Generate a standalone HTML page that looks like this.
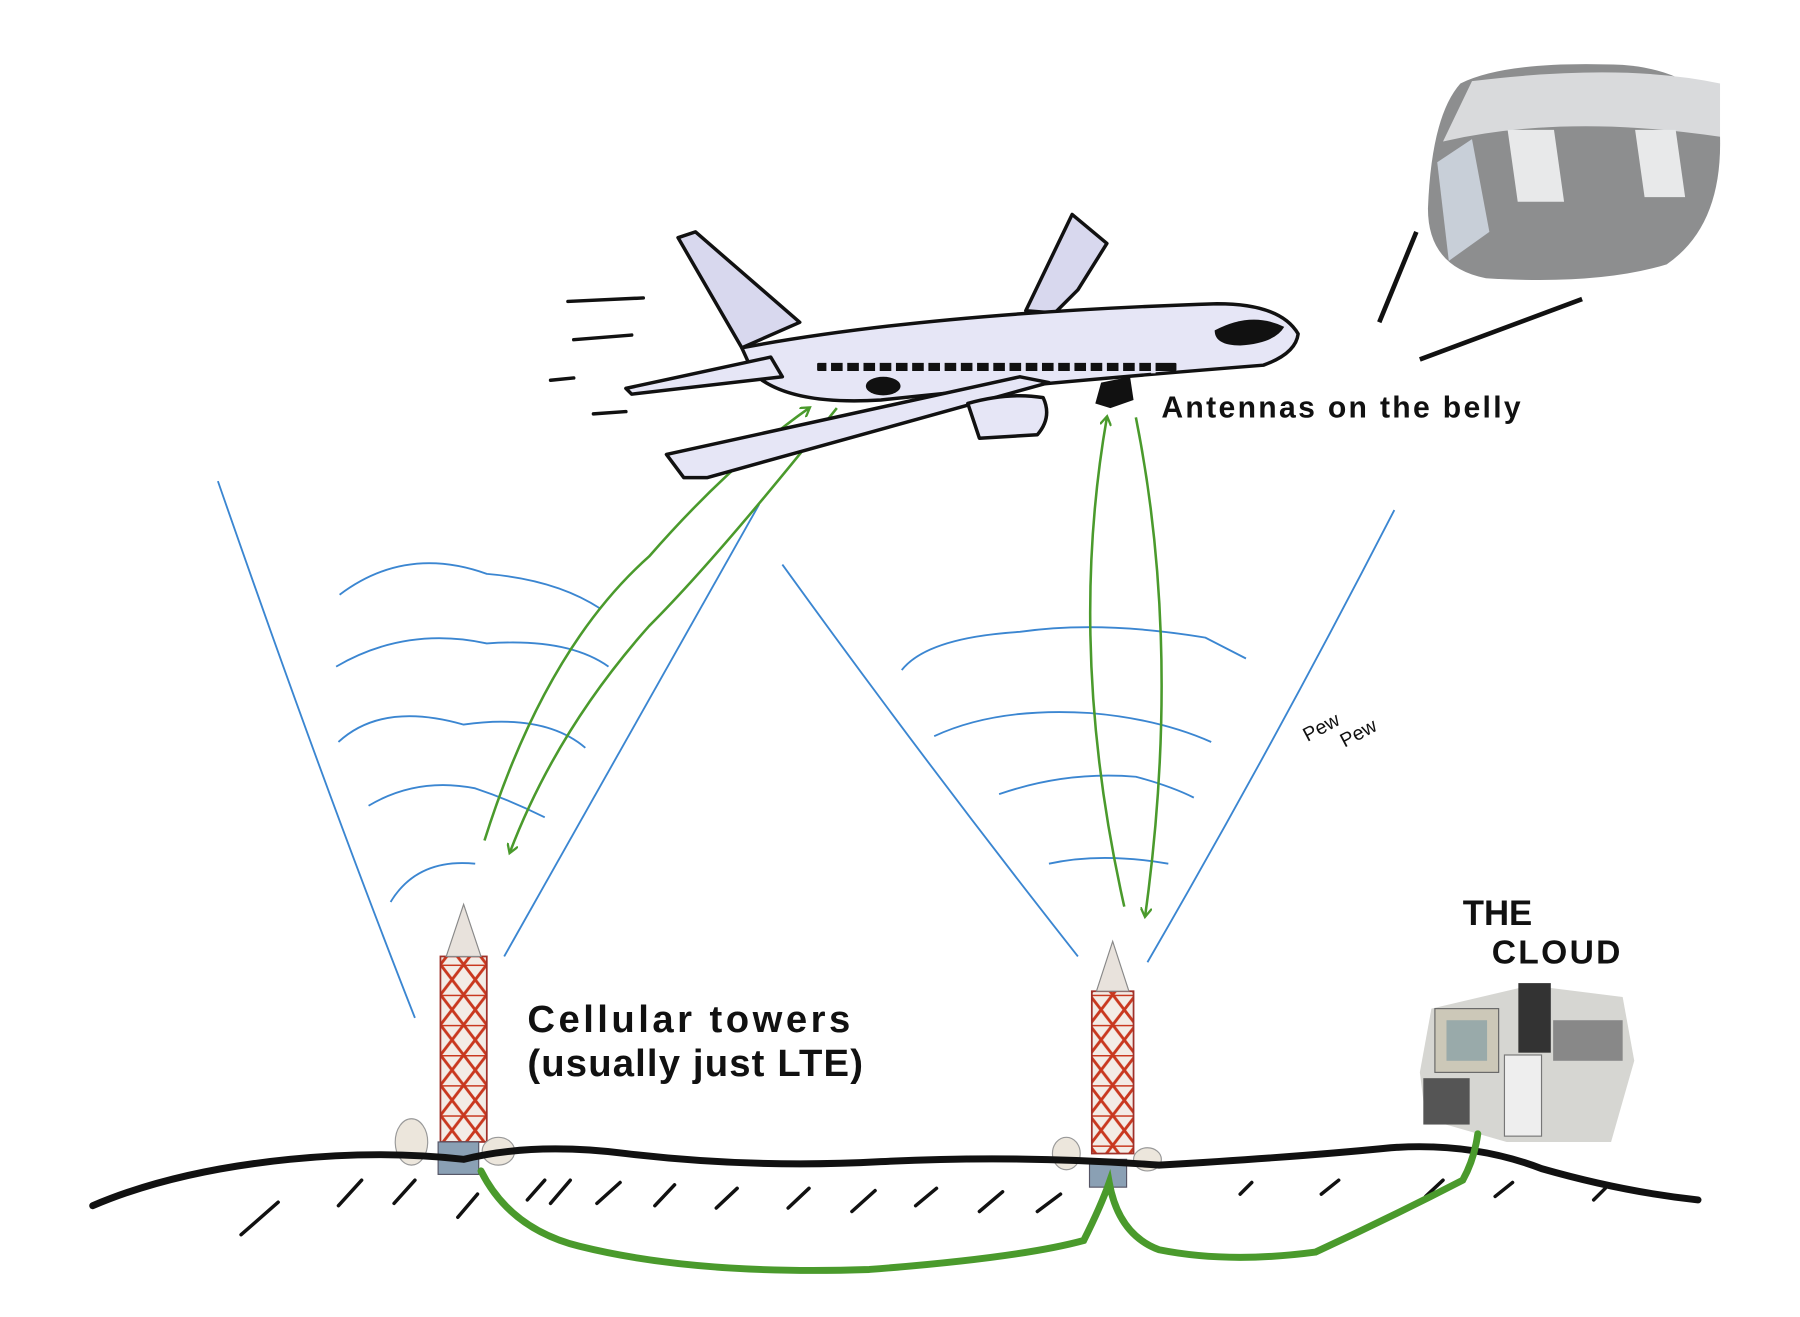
<!DOCTYPE html>
<html><head><meta charset="utf-8"><style>
html,body{margin:0;padding:0;background:#fff;width:1800px;height:1317px;overflow:hidden}
svg{display:block}
text{font-family:"Liberation Sans",sans-serif;fill:#111}
</style></head><body>
<svg width="1800" height="1317" viewBox="0 0 1553 1136" preserveAspectRatio="none" xmlns="http://www.w3.org/2000/svg">
<defs>
<marker id="ah" markerWidth="10" markerHeight="10" refX="7" refY="5" orient="auto" markerUnits="userSpaceOnUse" viewBox="0 0 10 10">
<path d="M0,0 L8,5 L0,10" fill="none" stroke="#4a9a2c" stroke-width="2"/></marker>
<pattern id="lat" width="20" height="26" patternUnits="userSpaceOnUse">
<rect width="20" height="26" fill="#f3ece6"/>
<path d="M0,0 L20,26 M20,0 L0,26 M0,0 H20" stroke="#c9381f" stroke-width="2.5" fill="none"/></pattern>
</defs>

<!-- photo blob -->
<path d="M1260,72 Q1300,52 1400,56 Q1478,62 1484,118 Q1486,195 1438,228 Q1380,246 1282,240 Q1232,230 1232,180 Q1235,100 1260,72Z" fill="#8d8e8f"/>
<path d="M1245,122 Q1350,98 1484,118 L1484,72 Q1400,54 1270,70Z" fill="#d9dadc"/>
<rect x="1285" y="112" width="40" height="62" fill="#e8e9ea" transform="skewX(8)"/>
<rect x="1395" y="112" width="35" height="58" fill="#e8e9ea" transform="skewX(8)"/>
<path d="M1240,140 L1270,120 L1285,200 L1250,225Z" fill="#c8cfd8"/>
<line x1="1190" y1="278" x2="1222" y2="200" stroke="#111" stroke-width="4"/>
<line x1="1225" y1="310" x2="1365" y2="258" stroke="#111" stroke-width="4"/>

<g stroke="#111" stroke-width="3" stroke-linecap="round">
<line x1="490" y1="260" x2="555" y2="257"/><line x1="495" y1="293" x2="545" y2="289"/>
<line x1="475" y1="328" x2="495" y2="326"/><line x1="512" y1="357" x2="540" y2="355"/></g>

<g stroke="#3b86d1" stroke-width="1.6" fill="none">
<path d="M188,415 Q280,680 358,878"/><path d="M655,435 Q540,640 435,825"/>
<path d="M675,487 Q800,660 930,825"/><path d="M1203,440 Q1100,640 990,830"/>
<path d="M293,513 Q350,470 420,495 Q480,500 518,525"/>
<path d="M290,575 Q350,540 420,555 Q490,550 525,575"/>
<path d="M292,640 Q330,605 400,625 Q470,615 505,645"/>
<path d="M318,695 Q360,670 410,680 Q440,690 470,705"/>
<path d="M337,778 Q360,740 410,745"/>
<path d="M778,578 Q800,550 880,545 Q950,535 1040,550 L1075,568"/>
<path d="M806,635 Q860,610 940,615 Q1000,620 1045,640"/>
<path d="M862,685 Q920,665 980,670 Q1010,678 1030,688"/>
<path d="M905,745 Q950,735 1008,745"/>
</g>

<g stroke="#4a9a2c" stroke-width="2.2" fill="none" marker-end="url(#ah)">
<path d="M418,725 Q470,560 560,480 Q630,400 698,352"/>
<path d="M722,352 Q620,480 560,540 Q480,630 440,735"/>
<path d="M970,782 Q920,560 955,360"/>
<path d="M980,360 Q1020,560 988,790"/>
</g>

<g stroke="#111" stroke-width="3" stroke-linejoin="round">
<path d="M585,205 L600,200 L690,278 L640,300Z" fill="#d8d8ee"/>
<path d="M885,268 L925,185 L955,210 L930,250 L910,270Z" fill="#d8d8ee"/>
<path d="M640,300 Q800,270 1050,262 Q1105,262 1120,288 Q1118,305 1090,315 Q900,330 760,345 Q680,350 650,322Z" fill="#e6e6f6"/>
<path d="M540,335 L665,308 L675,325 L545,340Z" fill="#e6e6f6"/>
<path d="M575,392 L880,325 L905,330 L610,412 L590,412Z" fill="#e6e6f6"/>
<path d="M835,348 Q870,338 900,343 Q908,360 895,375 L845,378Z" fill="#e6e6f6"/>
</g>
<path d="M1048,285 Q1080,268 1108,282 Q1100,296 1070,298 Q1048,298 1048,285Z" fill="#111"/>
<path d="M950,330 L975,325 L978,345 L958,352 L945,348Z" fill="#111"/>
<ellipse cx="762" cy="333" rx="15" ry="8" fill="#111"/>
<rect x="705" y="313" width="310" height="7" rx="1" fill="#111"/>
<g fill="#e6e6f6"><rect x="713" y="312" width="4" height="10"/><rect x="727" y="312" width="4" height="10"/><rect x="741" y="312" width="4" height="10"/><rect x="755" y="312" width="4" height="10"/><rect x="769" y="312" width="4" height="10"/><rect x="783" y="312" width="4" height="10"/><rect x="797" y="312" width="4" height="10"/><rect x="811" y="312" width="4" height="10"/><rect x="825" y="312" width="4" height="10"/><rect x="839" y="312" width="4" height="10"/><rect x="853" y="312" width="4" height="10"/><rect x="867" y="312" width="4" height="10"/><rect x="881" y="312" width="4" height="10"/><rect x="895" y="312" width="4" height="10"/><rect x="909" y="312" width="4" height="10"/><rect x="923" y="312" width="4" height="10"/><rect x="937" y="312" width="4" height="10"/><rect x="951" y="312" width="4" height="10"/><rect x="965" y="312" width="4" height="10"/><rect x="979" y="312" width="4" height="10"/><rect x="993" y="312" width="4" height="10"/></g>

<rect x="380" y="825" width="40" height="160" fill="url(#lat)" stroke="#a0312a" stroke-width="1.5"/>
<path d="M385,825 L400,780 L415,825Z" fill="#e8e2dc" stroke="#888"/>
<rect x="942" y="855" width="36" height="140" fill="url(#lat)" stroke="#a0312a" stroke-width="1.5"/>
<path d="M946,855 L960,812 L974,855Z" fill="#e8e2dc" stroke="#888"/>
<g fill="#ece6dc" stroke="#999"><ellipse cx="355" cy="985" rx="14" ry="20"/><ellipse cx="430" cy="993" rx="14" ry="12"/><ellipse cx="920" cy="995" rx="12" ry="14"/><ellipse cx="990" cy="1000" rx="12" ry="10"/></g>
<rect x="378" y="985" width="35" height="28" fill="#8aa0b4" stroke="#556"/>
<rect x="940" y="1000" width="32" height="24" fill="#8aa0b4" stroke="#556"/>

<path d="M1235,870 L1320,850 L1400,860 L1410,915 L1390,985 L1300,985 L1230,965 L1225,925Z" fill="#d6d6d2"/>
<rect x="1238" y="870" width="55" height="55" fill="#ccc8b8" stroke="#666"/>
<rect x="1248" y="880" width="35" height="35" fill="#9aa"/>
<rect x="1310" y="848" width="28" height="60" fill="#333"/>
<rect x="1298" y="910" width="32" height="70" fill="#eee" stroke="#777"/>
<rect x="1340" y="880" width="60" height="35" fill="#888"/>
<rect x="1228" y="930" width="40" height="40" fill="#555"/>

<path d="M80,1040 Q150,1010 250,1000 Q330,992 400,1000 Q460,985 540,995 Q650,1008 760,1002 Q880,996 1000,1005 Q1120,998 1200,990 Q1270,985 1330,1008 Q1400,1028 1465,1035" fill="none" stroke="#111" stroke-width="6" stroke-linecap="round"/>
<g stroke="#111" stroke-width="3" stroke-linecap="round">
<line x1="208" y1="1065" x2="240" y2="1037"/><line x1="292" y1="1040" x2="312" y2="1018"/><line x1="340" y1="1038" x2="358" y2="1018"/><line x1="395" y1="1050" x2="412" y2="1030"/>
<line x1="455" y1="1035" x2="470" y2="1018"/><line x1="475" y1="1038" x2="492" y2="1018"/><line x1="515" y1="1038" x2="535" y2="1020"/><line x1="565" y1="1040" x2="582" y2="1022"/>
<line x1="618" y1="1042" x2="636" y2="1025"/><line x1="680" y1="1042" x2="698" y2="1025"/><line x1="735" y1="1045" x2="755" y2="1027"/><line x1="790" y1="1040" x2="808" y2="1025"/>
<line x1="845" y1="1045" x2="865" y2="1028"/><line x1="895" y1="1045" x2="915" y2="1030"/><line x1="1070" y1="1030" x2="1080" y2="1020"/><line x1="1140" y1="1030" x2="1155" y2="1018"/>
<line x1="1230" y1="1032" x2="1245" y2="1018"/><line x1="1290" y1="1032" x2="1305" y2="1020"/><line x1="1375" y1="1035" x2="1385" y2="1025"/></g>

<path d="M415,1010 Q440,1060 500,1075 Q600,1100 750,1095 Q880,1085 935,1070 Q950,1040 957,1020 Q965,1065 1000,1078 Q1060,1090 1135,1080 Q1200,1050 1262,1018 Q1272,1000 1275,978" fill="none" stroke="#4a9a2c" stroke-width="6" stroke-linecap="round"/>

<text x="1002" y="360" font-size="26" font-weight="bold" letter-spacing="2">Antennas on the belly</text>
<text x="455" y="890" font-size="33" font-weight="bold" letter-spacing="3">Cellular towers</text>
<text x="455" y="928" font-size="33" font-weight="bold" letter-spacing="1">(usually just LTE)</text>
<text x="1262" y="798" font-size="30" font-weight="bold">THE</text>
<text x="1287" y="831" font-size="29" font-weight="bold" letter-spacing="2">CLOUD</text>
<text x="1128" y="640" font-size="17" transform="rotate(-28 1128 640)">Pew</text>
<text x="1160" y="645" font-size="17" transform="rotate(-28 1160 645)">Pew</text>
</svg>
</body></html>
